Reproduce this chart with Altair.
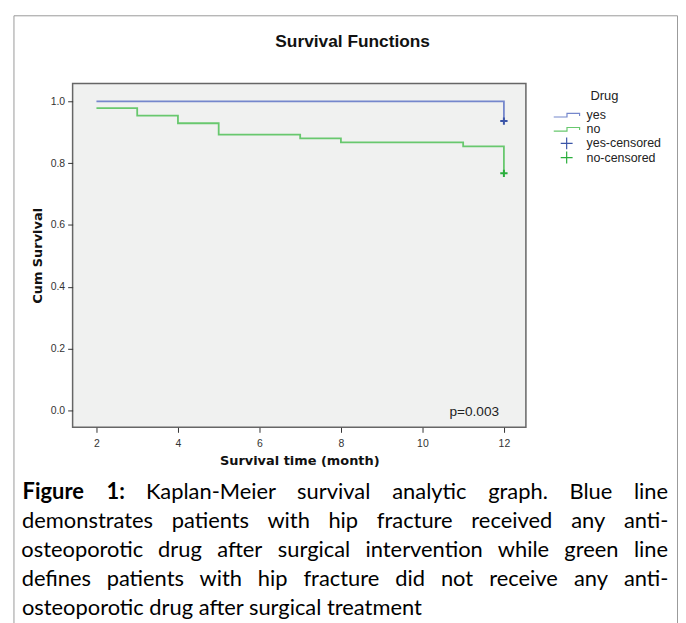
import altair as alt
import pandas as pd

# ---------------- data ----------------
yes_time = [2, 12, 12]
yes_surv = [1.0, 1.0, 0.936]
no_time = [2, 3, 4, 5, 7, 8, 11, 12, 12]
no_surv = [0.978, 0.954, 0.929, 0.892, 0.880, 0.867, 0.854, 0.854, 0.767]
censored_time = [12, 12]
censored_surv = [0.936, 0.767]
censored_group = ["yes-censored", "no-censored"]
legend_groups = ["yes", "no", "yes-censored", "no-censored"]
x_ticks = [2, 4, 6, 8, 10, 12]
y_ticks = [0.0, 0.2, 0.4, 0.6, 0.8, 1.0]
chart_title = "Survival Functions"
p_label = "p=0.003"
x_title = "Survival time (month)"
y_title = "Cum Survival"
legend_title = "Drug"
caption_lines = [
    "Figure 1: Kaplan-Meier survival analytic graph. Blue line",
    "demonstrates patients with hip fracture received any anti-",
    "osteoporotic drug after surgical intervention while green line",
    "defines patients with hip fracture did not receive any anti-",
    "osteoporotic drug after surgical treatment",
]
caption_bold_words = ["Figure", "1:"]

# ---------------- layout / style ----------------
W, H = 456, 346
PAD = {"left": 65, "top": 74, "right": 153, "bottom": 196}
FONT = "Liberation Sans"
CAP_FONT = "Lato"
CAP_SIZE = 22
CAP_LEFT, CAP_RIGHT = -51, 599
CAP_BASE0, CAP_STEP = 418, 29.2
LEG_SYM_X, LEG_LABEL_X, LEG_Y0, LEG_DY = 497, 517, 32, 14.2

# approximate Lato advance widths (em) for justification
LATO = {
    'a': 0.51, 'b': 0.56, 'c': 0.46, 'd': 0.56, 'e': 0.52, 'f': 0.32, 'g': 0.50,
    'h': 0.56, 'i': 0.24, 'j': 0.24, 'k': 0.50, 'l': 0.24, 'm': 0.84, 'n': 0.56,
    'o': 0.56, 'p': 0.56, 'q': 0.56, 'r': 0.37, 's': 0.43, 't': 0.35, 'u': 0.56,
    'v': 0.51, 'w': 0.77, 'x': 0.49, 'y': 0.51, 'z': 0.44, 'B': 0.62, 'F': 0.54,
    'K': 0.63, 'M': 0.86, '1': 0.58, '-': 0.34, '.': 0.23, ':': 0.23,
}


def word_width(w, bold):
    return sum(LATO.get(c, 0.5) for c in w) * CAP_SIZE * (1.05 if bold else 1.0)


words = []
for li, line in enumerate(caption_lines[:-1]):
    toks = line.split(" ")
    bolds = [li == 0 and t in caption_bold_words for t in toks]
    ws = [word_width(t, b) for t, b in zip(toks, bolds)]
    gap = (CAP_RIGHT - CAP_LEFT - sum(ws)) / (len(toks) - 1)
    xpos = CAP_LEFT
    for t, b, w in zip(toks, bolds, ws):
        words.append({"word": t, "cx": xpos + w / 2, "cy": CAP_BASE0 + li * CAP_STEP,
                      "bold": b})
        xpos += w + gap
words_df = pd.DataFrame(words)

rows = []
for g, ts, ss in (("yes", yes_time, yes_surv), ("no", no_time, no_surv)):
    for i, (t, s) in enumerate(zip(ts, ss)):
        rows.append({"time": t, "surv": s, "group": g, "step": i})
lines_df = pd.DataFrame(rows)
cens_df = pd.DataFrame({"time": censored_time, "surv": censored_surv, "group": censored_group})
legend_df = pd.DataFrame({"group": legend_groups,
                          "ly": [LEG_Y0 + i * LEG_DY for i in range(len(legend_groups))]})
one = pd.DataFrame({"k": [0]})

STEP = "M-2,0.28H0.05V-0.28H2V0.12"
PLUS = "M-0.92,0H0.92M0,-0.92V0.92"

x_scale = alt.Scale(domain=[1.415, 12.54], nice=False, zero=False)
y_scale = alt.Scale(domain=[-0.055, 1.058], nice=False, zero=False)
color_scale = alt.Scale(domain=legend_groups,
                        range=["#7587cc", "#68c86e", "#3b55a8", "#2aae3c"])
shape_scale = alt.Scale(domain=legend_groups, range=[STEP, STEP, PLUS, PLUS])

x_axis = alt.Axis(values=x_ticks, title=x_title, domain=False, grid=False, tickSize=5,
                  tickColor="#333", labelFont=FONT, labelFontSize=10.5, labelColor="#333",
                  labelPadding=6, titleFont="DejaVu Sans", titleFontSize=13,
                  titleFontWeight="bold", titleColor="#111", titlePadding=6)
y_axis = alt.Axis(values=y_ticks, title=y_title, format=".1f", domain=False, grid=False,
                  tickSize=5, tickColor="#333", labelFont=FONT, labelFontSize=10.5,
                  labelColor="#333", labelPadding=3, titleFont="DejaVu Sans",
                  titleFontSize=13, titleFontWeight="bold", titleColor="#111",
                  titlePadding=6)

outer_box = alt.Chart(one).mark_rect(fillOpacity=0, stroke="#9a9a9a", strokeWidth=1).encode(
    x=alt.value(-59), x2=alt.value(608.5), y=alt.value(-68), y2=alt.value(640))

title = alt.Chart(one).mark_text(text=chart_title, font=FONT, fontSize=17.4, fontWeight="bold",
                                 color="#111", align="center", baseline="alphabetic").encode(
    x=alt.value(281.7), y=alt.value(-37))

lines = alt.Chart(lines_df).mark_line(interpolate="step-after", strokeWidth=1.8).encode(
    x=alt.X("time:Q", scale=x_scale, axis=x_axis),
    y=alt.Y("surv:Q", scale=y_scale, axis=y_axis),
    color=alt.Color("group:N", scale=color_scale, legend=None),
    order=alt.Order("step:Q"),
)

points = alt.Chart(cens_df).mark_point(filled=False, size=64, strokeWidth=2, opacity=1).encode(
    x=alt.X("time:Q", scale=x_scale, axis=x_axis),
    y=alt.Y("surv:Q", scale=y_scale, axis=y_axis),
    color=alt.Color("group:N", scale=color_scale, legend=None),
    shape=alt.Shape("group:N", scale=shape_scale, legend=None),
)

# legend drawn with the same colour / shape scales
leg_title = alt.Chart(one).mark_text(text=legend_title, font=FONT, fontSize=13, color="#222",
                                     align="center", baseline="middle").encode(
    x=alt.value(535), y=alt.value(13))
leg_symbols = alt.Chart(legend_df).mark_point(filled=False, size=169, strokeWidth=1.2,
                                              opacity=1).encode(
    x=alt.value(LEG_SYM_X), y=alt.Y("ly:Q", scale=None),
    color=alt.Color("group:N", scale=color_scale, legend=None),
    shape=alt.Shape("group:N", scale=shape_scale, legend=None),
)
leg_labels = alt.Chart(legend_df).mark_text(font=FONT, fontSize=12.5, color="#222", align="left",
                                            baseline="middle").encode(
    x=alt.value(LEG_LABEL_X), y=alt.Y("ly:Q", scale=None), text="group:N")

p_text = alt.Chart(one).mark_text(text=p_label, font=FONT, fontSize=13.7, color="#222",
                                  align="right", baseline="alphabetic").encode(
    x=alt.value(429), y=alt.value(335))

cap_regular = alt.Chart(words_df).transform_filter("!datum.bold").mark_text(
    font=CAP_FONT, fontSize=CAP_SIZE, color="#000", align="center", baseline="alphabetic").encode(
    x=alt.X("cx:Q", scale=None), y=alt.Y("cy:Q", scale=None), text="word:N")
cap_bold = alt.Chart(words_df).transform_filter("datum.bold").mark_text(
    font=CAP_FONT, fontSize=CAP_SIZE, fontWeight="bold", color="#000", align="center",
    baseline="alphabetic").encode(
    x=alt.X("cx:Q", scale=None), y=alt.Y("cy:Q", scale=None), text="word:N")
cap_last = alt.Chart(one).mark_text(text=caption_lines[-1], font=CAP_FONT, fontSize=CAP_SIZE,
                                    color="#000", align="left", baseline="alphabetic").encode(
    x=alt.value(CAP_LEFT), y=alt.value(CAP_BASE0 + 4 * CAP_STEP))

chart = alt.layer(outer_box, title, lines, points, leg_title, leg_symbols, leg_labels, p_text,
                  cap_regular, cap_bold, cap_last).properties(
    width=W, height=H, autosize=alt.AutoSizeParams(type="none"), padding=PAD
).configure_view(fill="#f0f1f0", stroke="#666", strokeWidth=1.5)

chart.save("out.html", embed_options={"renderer": "svg", "actions": False})
